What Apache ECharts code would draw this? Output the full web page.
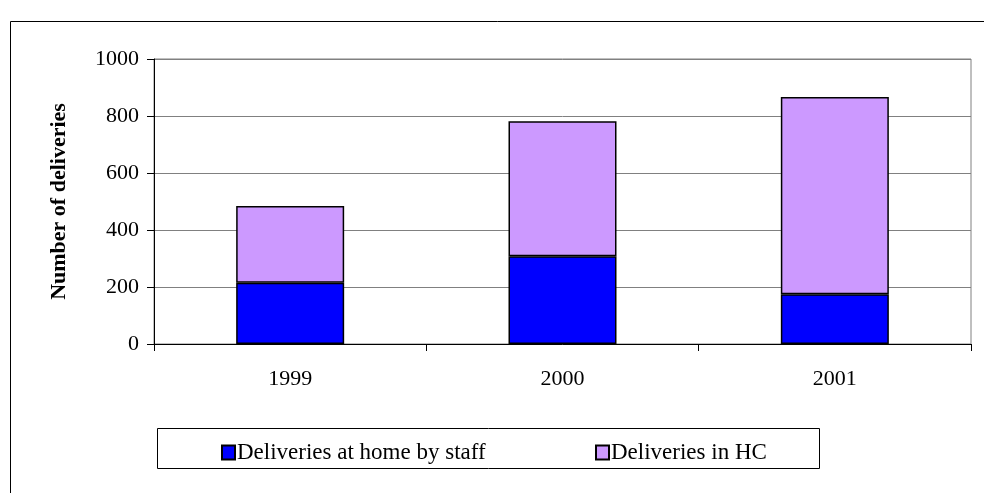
<!DOCTYPE html>
<html>
<head>
<meta charset="utf-8">
<script src="https://cdn.jsdelivr.net/npm/echarts@6/dist/echarts.min.js"></script>
<style>
  html, body { margin: 0; padding: 0; background: #fff; }
  #chartBox { width: 984px; height: 493px; }
</style>
</head>
<body>
<div id="chartBox"></div>
<script>
// data
const years = ['1999', '2000', '2001']
const homeByStaff = [215, 308, 175]
const inHC = [269, 474, 692]
const yTicks = [0, 200, 400, 600, 800, 1000]

const font = 'Liberation Serif'

let myChart = echarts.init(document.getElementById('chartBox'))
myChart.setOption({
  animation: false,
  textStyle: { fontFamily: font, color: '#000' },
  grid: {
    left: 154,
    right: 13,
    top: 59,
    bottom: 149,
    show: true,
    borderColor: '#808080',
    borderWidth: 1
  },
  graphic: [
    {
      type: 'rect',
      left: 8,
      top: 19,
      shape: { width: 1000, height: 500 },
      style: { fill: 'none', stroke: '#000', lineWidth: 1 },
      silent: true
    },
    {
      type: 'rect',
      left: 157,
      top: 428,
      shape: { width: 662, height: 40 },
      style: { fill: '#fff', stroke: '#000', lineWidth: 1 },
      silent: true,
      z: -1
    }
  ],
  legend: [
    {
      data: ['Deliveries at home by staff'],
      left: 216,
      top: 436,
      icon: 'rect',
      itemWidth: 13,
      itemHeight: 14,
      textStyle: { fontFamily: font, fontSize: 23, color: '#000', padding: [0, 0, 0, -3] }
    },
    {
      data: ['Deliveries in HC'],
      left: 590,
      top: 436,
      icon: 'rect',
      itemWidth: 13,
      itemHeight: 14,
      textStyle: { fontFamily: font, fontSize: 23, color: '#000', padding: [0, 0, 0, -3] }
    }
  ],
  xAxis: {
    type: 'category',
    data: years,
    axisLine: { lineStyle: { color: '#000', width: 1 } },
    axisTick: { show: true, length: 7, lineStyle: { color: '#000' } },
    axisLabel: { fontFamily: font, fontSize: 22, color: '#000', margin: 24 }
  },
  yAxis: {
    type: 'value',
    min: yTicks[0],
    max: yTicks[yTicks.length - 1],
    interval: 200,
    name: 'Number of deliveries',
    nameLocation: 'middle',
    nameRotate: 90,
    nameGap: 84,
    nameTextStyle: { fontFamily: font, fontSize: 22, fontWeight: 'bold', color: '#000' },
    axisLine: { show: true, lineStyle: { color: '#000', width: 1 } },
    axisTick: { show: true, length: 7, lineStyle: { color: '#000' } },
    axisLabel: {
      fontFamily: font,
      fontSize: 22,
      color: '#000',
      margin: 15,
      formatter: v => String(v)
    },
    splitLine: { show: true, lineStyle: { color: '#808080', width: 1 } }
  },
  series: [
    {
      name: 'Deliveries at home by staff',
      type: 'bar',
      stack: 'total',
      barWidth: 108,
      data: homeByStaff,
      itemStyle: { color: '#0000FF', borderColor: '#000', borderWidth: 1.5 }
    },
    {
      name: 'Deliveries in HC',
      type: 'bar',
      stack: 'total',
      barWidth: 108,
      data: inHC,
      itemStyle: { color: '#CC99FF', borderColor: '#000', borderWidth: 1.5 }
    }
  ]
})
</script>
</body>
</html>
